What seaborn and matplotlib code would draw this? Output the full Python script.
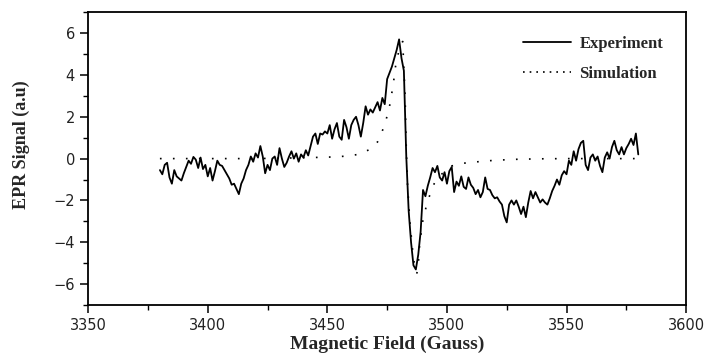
import matplotlib
matplotlib.use("Agg")
import matplotlib.pyplot as plt
import seaborn as sns
import pandas as pd

# experiment: field 3380..3580 G in 1 G steps, signal
exp_start = 3380
exp_signal = [
    -0.55, -0.75, -0.3, -0.2, -0.9, -1.2, -0.55, -0.85, -0.95, -1.05,
    -0.7, -0.4, -0.1, -0.25, 0.08, -0.05, -0.45, 0.05, -0.5, -0.3,
    -0.85, -0.45, -1.05, -0.6, -0.1, -0.3, -0.35, -0.55, -0.75, -0.95,
    -1.25, -1.2, -1.45, -1.7, -1.2, -0.95, -0.55, -0.3, 0.1, -0.15,
    0.25, 0.05, 0.6, 0.1, -0.7, -0.3, -0.55, 0.0, 0.1, -0.3,
    0.5, 0.0, -0.4, -0.2, 0.1, 0.35, 0.0, 0.25, -0.15, 0.2,
    0.05, 0.4, 0.15, 0.6, 1.05, 1.2, 0.7, 1.2, 1.15, 1.3,
    1.2, 1.6, 0.95, 1.4, 1.7, 1.05, 0.9, 1.85, 1.5, 0.95,
    1.6, 1.85, 2.0, 1.6, 1.05, 1.7, 2.5, 2.1, 2.35, 2.2,
    2.45, 2.7, 2.3, 2.9, 2.6, 3.8, 4.1, 4.4, 4.8, 5.2,
    5.7, 4.8, 4.2, 0.1, -2.5, -4.0, -5.1, -5.3, -4.6, -3.5,
    -1.5, -1.8, -1.3, -0.9, -0.45, -0.65, -0.35, -0.9, -1.05, -0.65,
    -1.2, -0.6, -0.4, -1.6, -1.1, -1.3, -0.85, -1.35, -1.45, -0.9,
    -1.25, -1.4, -1.7, -1.5, -1.85, -1.6, -0.9, -1.45, -1.5, -1.75,
    -1.9, -1.85, -2.05, -2.2, -2.75, -3.05, -2.2, -2.0, -2.2, -2.0,
    -2.3, -2.65, -2.3, -2.8, -2.1, -1.55, -1.9, -1.6, -1.85, -2.1,
    -1.95, -2.1, -2.2, -1.9, -1.55, -1.3, -1.0, -1.25, -0.8, -0.6,
    -0.75, -0.1, -0.3, 0.35, -0.1, 0.45, 0.75, 0.85, -0.3, -0.55,
    0.05, 0.2, -0.1, 0.1, -0.35, -0.65, 0.05, 0.3, 0.0, 0.55,
    0.85, 0.4, 0.2, 0.55, 0.2, 0.5, 0.7, 0.95, 0.65, 1.2,
    0.2,
]
exp_field = [exp_start + i for i in range(len(exp_signal))]

# simulation
sim_field = [3380, 3390, 3400, 3410, 3420, 3430, 3440, 3447, 3453, 3458,
             3463, 3468, 3471, 3474, 3476, 3477.5, 3478.5, 3480, 3481.5, 3482.5,
             3483, 3483.5, 3484.5, 3486, 3487.4, 3488, 3488.6, 3490, 3492, 3495,
             3498, 3502, 3507, 3513, 3520, 3530, 3540, 3550, 3560, 3570, 3580]
sim_signal = [0.0, 0.0, 0.0, 0.0, 0.0, 0.02, 0.04, 0.06, 0.08, 0.12,
              0.2, 0.45, 0.8, 1.6, 2.5, 3.5, 4.4, 5.2, 5.6, 3.0,
              0.5, -1.2, -3.0, -4.8, -5.5, -5.1, -4.1, -2.9, -2.0, -1.1,
              -0.72, -0.35, -0.22, -0.15, -0.08, -0.03, -0.01, 0.0, 0.0, 0.0, 0.0]

df_exp = pd.DataFrame({"field": exp_field, "signal": exp_signal})
df_sim = pd.DataFrame({"field": sim_field, "signal": sim_signal})

sns.set_style("ticks")
plt.rcParams["font.family"] = ["DejaVu Sans"]

fig, ax = plt.subplots(figsize=(7.11, 3.58), dpi=100)
fig.subplots_adjust(left=0.124, right=0.965, top=0.966, bottom=0.148)

sns.lineplot(data=df_exp, x="field", y="signal", ax=ax, color="black",
             linewidth=1.3, label="Experiment")
sns.lineplot(data=df_sim, x="field", y="signal", ax=ax, color="black",
             linewidth=1.2, linestyle=(0, (1, 6.8)), label="Simulation")

ax.set_xlim(3350, 3600)
ax.set_ylim(-7, 7)
ax.set_xticks(range(3350, 3601, 50))
ax.set_xticks(range(3375, 3600, 50), minor=True)
ax.set_yticks(range(-6, 7, 2))
ax.set_yticks(range(-7, 8, 2), minor=True)
ax.tick_params(which="major", direction="out", length=6, width=1.1,
               labelsize=10.5, labelcolor="#222222", color="black")
ax.tick_params(which="minor", direction="out", length=3.5, width=1.0, color="black")

for s in ax.spines.values():
    s.set_visible(True)
    s.set_linewidth(1.3)
    s.set_color("black")

lab_font = dict(family="Liberation Serif", weight="bold", size=14)
ax.set_xlabel("Magnetic Field (Gauss)", **lab_font)
ax.set_ylabel("EPR Signal (a.u)", size=13, family="Liberation Serif", weight="bold")
ax.xaxis.set_label_coords(0.5, -0.105)
ax.yaxis.set_label_coords(-0.098, 0.546)

leg = ax.legend(loc="upper right", bbox_to_anchor=(0.973, 0.942), frameon=False,
                borderaxespad=0,
                prop=dict(family="Liberation Serif", weight="bold", size=12),
                handlelength=2.9, handletextpad=0.5, labelspacing=0.86)
leg.get_lines()[1].set_linestyle((0, (1, 3)))

fig.savefig("out.png", dpi=100)
